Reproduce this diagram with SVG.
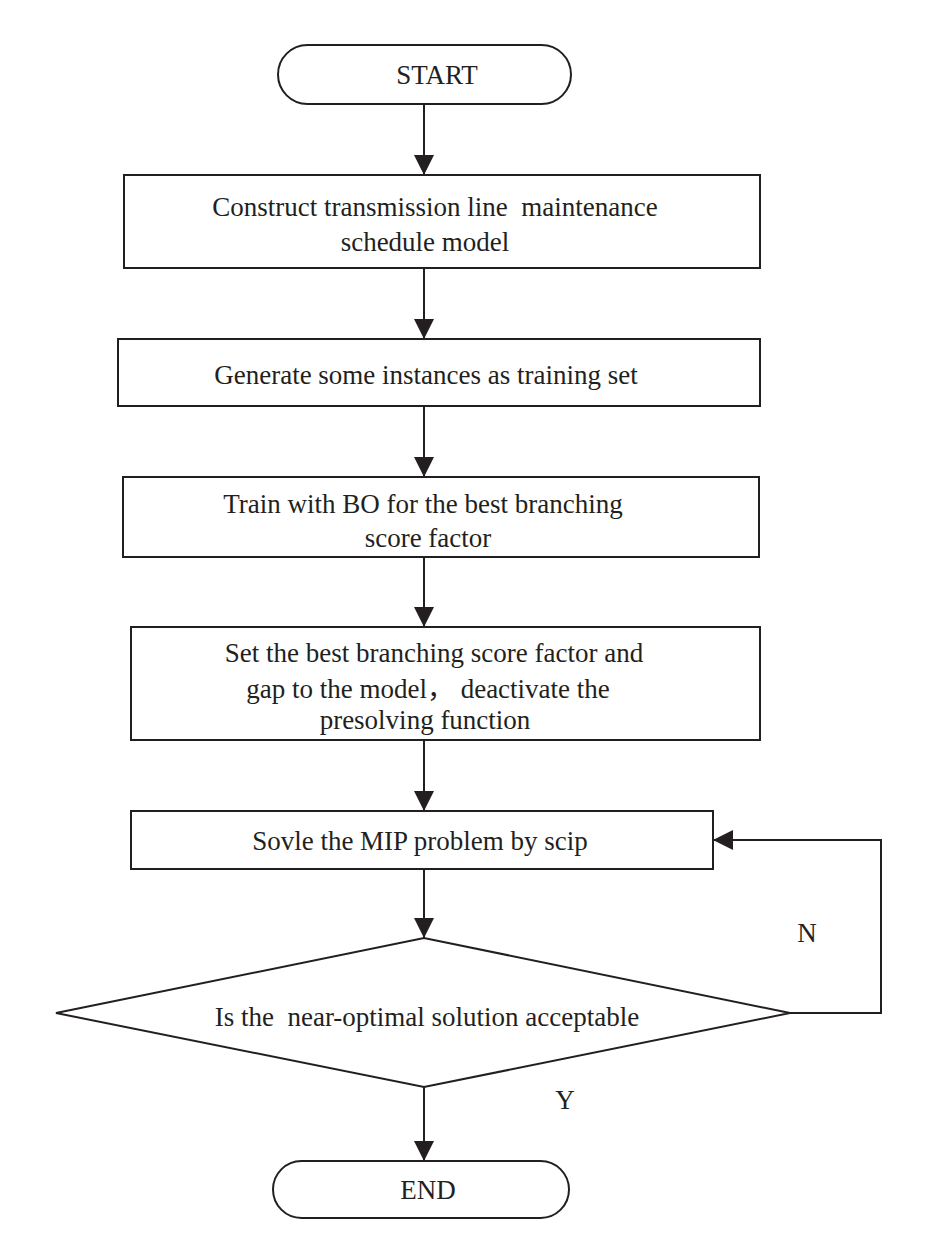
<svg xmlns="http://www.w3.org/2000/svg" width="928" height="1239" viewBox="0 0 928 1239">
<style>
.shape{fill:#fff;stroke:#231f20;stroke-width:2}
.conn{fill:none;stroke:#231f20;stroke-width:2}
text{font-family:"Liberation Serif","Times New Roman","Noto Sans CJK SC",serif;font-size:27px;fill:#231f20;text-anchor:middle;white-space:pre}
</style>
<defs>
<marker id="arr" markerUnits="userSpaceOnUse" viewBox="0 0 20 20" refX="20" refY="10" markerWidth="20" markerHeight="20" orient="auto">
<path d="M0,0 L20,10 L0,20 z" fill="#231f20"/>
</marker>
</defs>
<rect width="928" height="1239" fill="#fff"/>
<g id="connectors">
<line class="conn" x1="424" y1="104" x2="424" y2="175" marker-end="url(#arr)"/>
<line class="conn" x1="424" y1="268" x2="424" y2="339" marker-end="url(#arr)"/>
<line class="conn" x1="424" y1="406" x2="424" y2="477" marker-end="url(#arr)"/>
<line class="conn" x1="424" y1="557" x2="424" y2="627" marker-end="url(#arr)"/>
<line class="conn" x1="424" y1="740" x2="424" y2="811" marker-end="url(#arr)"/>
<line class="conn" x1="424" y1="869" x2="424" y2="938" marker-end="url(#arr)"/>
<line class="conn" x1="424" y1="1087" x2="424" y2="1161" marker-end="url(#arr)"/>
<polyline class="conn" points="790,1013 881,1013 881,840 713,840" marker-end="url(#arr)"/>
</g>
<g id="start">
<rect class="shape" x="278" y="45" width="293" height="59" rx="29.5"/>
<text x="437" y="84">START</text>
</g>
<g id="construct">
<rect class="shape" x="124" y="175" width="636" height="93"/>
<text x="435" y="216">Construct transmission line  maintenance</text>
<text x="425" y="251">schedule model</text>
</g>
<g id="generate">
<rect class="shape" x="118" y="339" width="642" height="67"/>
<text x="426" y="384">Generate some instances as training set</text>
</g>
<g id="train">
<rect class="shape" x="123" y="477" width="636" height="80"/>
<text x="423" y="513">Train with BO for the best branching</text>
<text x="428" y="547">score factor</text>
</g>
<g id="set">
<rect class="shape" x="131" y="627" width="629" height="113"/>
<text x="434" y="662">Set the best branching score factor and</text>
<text x="428" y="698">gap to the model， deactivate the</text>
<text x="425" y="729">presolving function</text>
</g>
<g id="solve">
<rect class="shape" x="131" y="811" width="582" height="58"/>
<text x="420" y="850">Sovle the MIP problem by scip</text>
</g>
<g id="decision">
<polygon class="shape" points="56,1013 424,938 790,1013 424,1087"/>
<text x="427" y="1026">Is the  near-optimal solution acceptable</text>
</g>
<g id="labels">
<text x="807" y="942">N</text>
<text x="565" y="1109">Y</text>
</g>
<g id="end">
<rect class="shape" x="273" y="1161" width="296" height="57" rx="28.5"/>
<text x="428" y="1199">END</text>
</g>
</svg>
